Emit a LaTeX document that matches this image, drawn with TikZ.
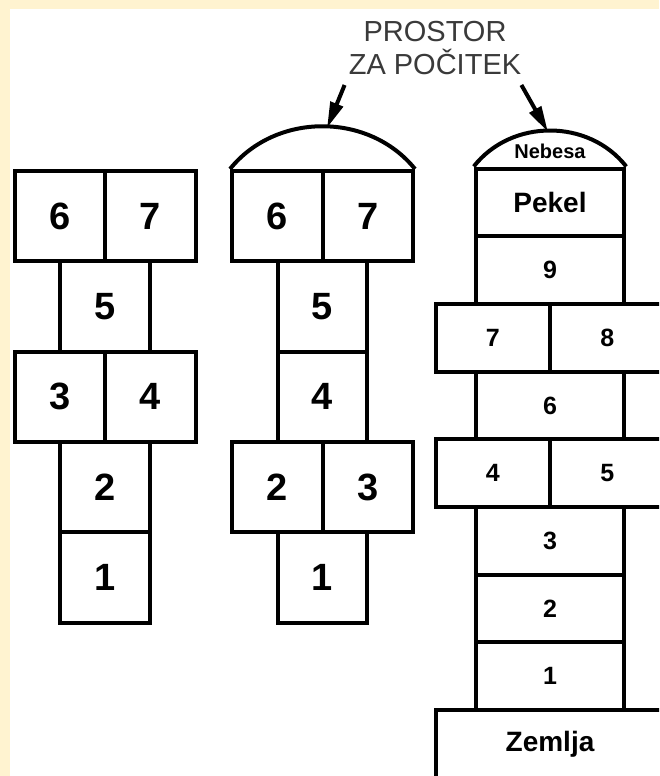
\documentclass[tikz,border=0pt]{standalone}
\usepackage{fontspec}
\setmainfont{Liberation Sans}
\usetikzlibrary{arrows.meta}
\definecolor{krem}{RGB}{255,243,208}
\definecolor{napiscol}{RGB}{58,58,58}
\begin{document}
\begin{tikzpicture}[x=1pt,y=-1pt,
  crta/.style={line width=4pt},
  polje/.style={draw,crta,rectangle,inner sep=0pt,minimum height=90.3pt,font=\fontsize{38}{40}\selectfont\bfseries},
  pol/.style={polje,minimum width=90.5pt},
  ozko/.style={polje,minimum width=89.5pt},
  polje3/.style={draw,crta,rectangle,inner sep=0pt,minimum height=67.7pt,font=\fontsize{25}{28}\selectfont\bfseries},
  pol3/.style={polje3,minimum width=114.5pt},
  ozko3/.style={polje3,minimum width=148.5pt},
  puscica/.style={crta,-{Triangle[length=26pt,width=13pt]}}]
\useasboundingbox (0,0) rectangle (659,776);
\clip (0,0) rectangle (659,776);
\fill[white] (0,0) rectangle (659,776);
\fill[krem] (0,0) rectangle (659,9);
\fill[krem] (0,0) rectangle (10,776);

\node[pol] (l6) at (105-45.25,216.15) {6};
\node[pol] (l7) at (105+45.25,216.15) {7};
\node[ozko] (l5) at (105,306.45) {5};
\node[pol] (l3) at (105-45.25,396.75) {3};
\node[pol] (l4) at (105+45.25,396.75) {4};
\node[ozko] (l2) at (105,487.05) {2};
\node[ozko] (l1) at (105,577.35) {1};

\node[pol] (m6) at (322.5-45.25,216.15) {6};
\node[pol] (m7) at (322.5+45.25,216.15) {7};
\node[ozko] (m5) at (322.5,306.45) {5};
\node[ozko] (m4) at (322.5,396.75) {4};
\node[pol] (m2) at (322.5-45.25,487.05) {2};
\node[pol] (m3) at (322.5+45.25,487.05) {3};
\node[ozko] (m1) at (322.5,577.35) {1};
\draw[crta] (m6.north west) .. controls +(46,-57) and +(-46,-57) .. (m7.north east);

\node[ozko3,font=\fontsize{28}{30}\selectfont\bfseries] (pekel) at (550,202.35) {Pekel};
\node[ozko3] (d9) at (550,270.05) {9};
\node[pol3] (d7) at (550-57.25,337.75) {7};
\node[pol3] (d8) at (550+57.25,337.75) {8};
\node[ozko3] (d6) at (550,405.45) {6};
\node[pol3] (d4) at (550-57.25,473.15) {4};
\node[pol3] (d5) at (550+57.25,473.15) {5};
\node[ozko3] (d3) at (550,540.85) {3};
\node[ozko3] (d2) at (550,608.55) {2};
\node[ozko3] (d1) at (550,676.25) {1};
\node[polje3,minimum width=229pt,font=\fontsize{28}{30}\selectfont\bfseries] (zemlja) at (550,743.95) {Zemlja};
\draw[crta] (pekel.north west) .. controls +(37.6,-48) and +(-37.6,-48) .. (pekel.north east);
\node[font=\fontsize{20}{22}\selectfont\bfseries,inner sep=0pt] (nebesa) at (550,151) {Nebesa};

\node[anchor=south,align=center,inner sep=0pt,text=napiscol,font=\fontsize{29}{33}\selectfont] (prostor) at (435,75) {PROSTOR\\ZA POČITEK};
\coordinate (vrhm) at (327,128);
\coordinate (vrhd) at (548,132);
\draw[puscica] ([shift={(-4,10)}]prostor.south west) -- (vrhm);
\draw[puscica] ([shift={(0,10)}]prostor.south east) -- (vrhd);
\end{tikzpicture}
\end{document}
